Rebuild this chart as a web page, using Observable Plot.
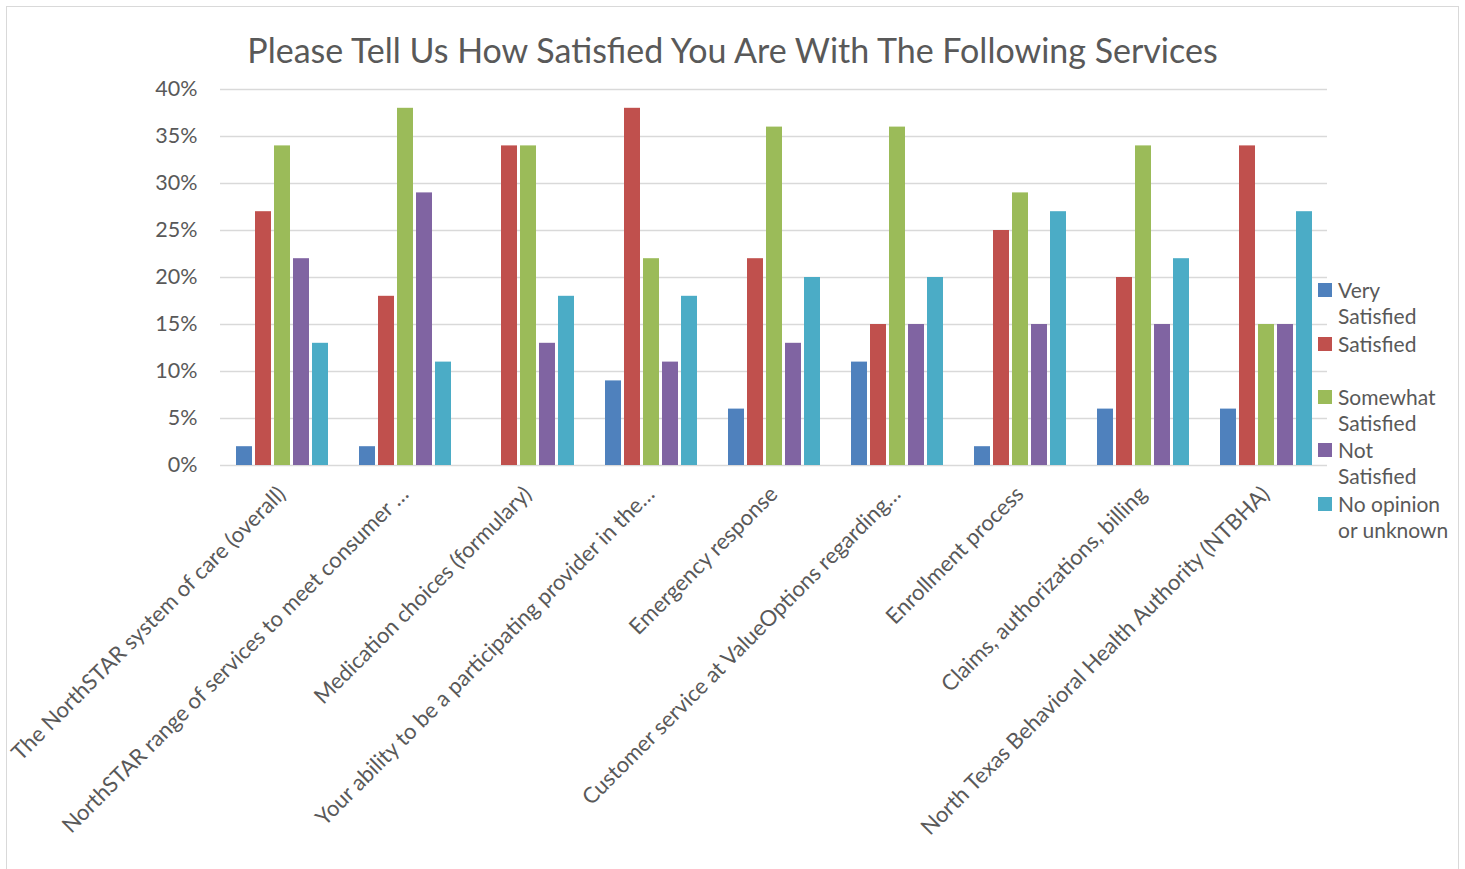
<!DOCTYPE html>
<html>
<head>
<meta charset="utf-8">
<script src="https://cdn.jsdelivr.net/npm/d3@7"></script>
<script src="https://cdn.jsdelivr.net/npm/@observablehq/plot@0.6"></script>
<style>
  body { margin: 0; background: #fff; font-family: Lato, "Open Sans", sans-serif; }
  #wrap { position: relative; width: 1465px; height: 869px; overflow: hidden; }
  #frame { position: absolute; left: 6px; top: 6px; width: 1453px; height: 870px; border: 1px solid #d9d9d9; box-sizing: border-box; }
  #title { height: 70px; box-sizing: border-box; padding-top: 30px; text-align: center; font-size: 34px; line-height: 40px; color: #595959; position: relative; }
  #chart { position: relative; }
  .leg { position: absolute; left: 1318px; font-size: 21px; line-height: 26px; color: #595959; white-space: nowrap; }
  .leg i { position: absolute; left: 0; top: 6px; width: 14px; height: 14px; }
  .leg div { margin-left: 20px; }
</style>
</head>
<body>
<div id="wrap">
  <div id="frame"></div>
  <div id="title">Please Tell Us How Satisfied You Are With The Following Services</div>
  <div id="chart"></div>
  <div id="legend"></div>
</div>
<script>
const categories = [
  "The NorthSTAR system of care (overall)",
  "NorthSTAR range of services to meet consumer …",
  "Medication choices (formulary)",
  "Your ability to be a participating provider in the…",
  "Emergency response",
  "Customer service at ValueOptions regarding…",
  "Enrollment process",
  "Claims, authorizations, billing",
  "North Texas Behavioral Health Authority (NTBHA)"
];
const series = ["Very Satisfied", "Satisfied", "Somewhat Satisfied", "Not Satisfied", "No opinion or unknown"];
const legendLines = [["Very", "Satisfied"], ["Satisfied"], ["Somewhat", "Satisfied"], ["Not", "Satisfied"], ["No opinion", "or unknown"]];
const verySatisfied = [2, 2, 0, 9, 6, 11, 2, 6, 6];
const satisfied     = [27, 18, 34, 38, 22, 15, 25, 20, 34];
const somewhat      = [34, 38, 34, 22, 36, 36, 29, 34, 15];
const notSatisfied  = [22, 29, 13, 11, 13, 15, 15, 15, 15];
const noOpinion     = [13, 11, 18, 18, 20, 20, 27, 22, 27];
const colors = ["#4f81bd", "#c0504d", "#9bbb59", "#8064a2", "#4bacc6"];
const yTicks = [0, 5, 10, 15, 20, 25, 30, 35, 40];

const seriesValues = [verySatisfied, satisfied, somewhat, notSatisfied, noOpinion];
const data = categories.flatMap((c, i) => series.map((s, j) => ({category: c, series: s, value: seriesValues[j][i]})));

const chart = Plot.plot({
  width: 1465,
  height: 799,
  marginLeft: 219,
  marginRight: 137,
  marginTop: 19,
  marginBottom: 404,
  style: {fontFamily: "Lato, 'Open Sans', sans-serif", fontSize: "21.5px", color: "#595959", background: "transparent"},
  fx: {domain: categories, padding: 0, label: null},
  x: {domain: series, paddingInner: 0.18, paddingOuter: 0.8, axis: null},
  y: {domain: [0, 40], label: null},
  color: {domain: series, range: colors},
  marks: [
    Plot.gridY(yTicks, {stroke: "#d9d9d9", strokeOpacity: 1, strokeWidth: 1.5}),
    Plot.barY(data, {fx: "category", x: "series", y: "value", fill: "series"}),
    Plot.axisY(yTicks, {tickSize: 0, tickPadding: 23, tickFormat: d => d + "%", fontSize: 21.5}),
    Plot.axisFx({anchor: "bottom", tickRotate: -45, tickSize: 0, tickPadding: 25, label: null, fontSize: 22, lineWidth: Infinity})
  ]
});
document.getElementById("chart").appendChild(chart);

const legendTops = [277, 331, 384, 437, 491];
const legend = document.getElementById("legend");
series.forEach((s, j) => {
  const el = document.createElement("div");
  el.className = "leg";
  el.style.top = legendTops[j] + "px";
  el.innerHTML = `<i style="background:${colors[j]}"></i><div>${legendLines[j].join("<br>")}</div>`;
  legend.appendChild(el);
});
</script>
</body>
</html>
